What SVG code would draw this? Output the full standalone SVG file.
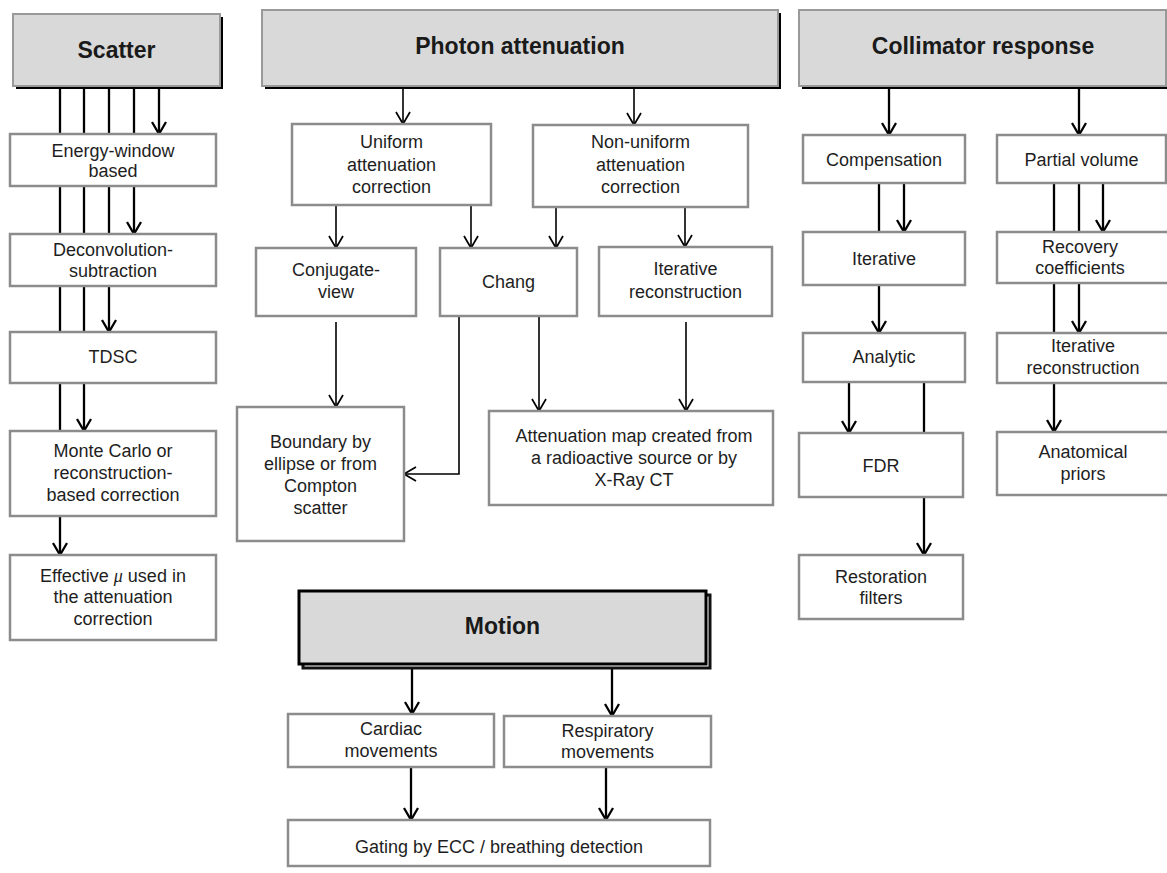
<svg xmlns="http://www.w3.org/2000/svg" width="1167" height="873" viewBox="0 0 1167 873">
<style>
.bg{fill:#ffffff}
.box{fill:#ffffff;stroke:#8c8c8c;stroke-width:2.5}
.hdr{fill:#d9d9d9;stroke:#999999;stroke-width:2}
.shadow{fill:#000000}
.t{font-family:"Liberation Sans",Arial,Helvetica,sans-serif;font-size:18px;fill:#1e1e1e;text-anchor:middle}
.h{font-family:"Liberation Sans",Arial,Helvetica,sans-serif;font-size:23px;font-weight:bold;fill:#1a1a1a;text-anchor:middle}
.c{fill:none;stroke:#000000;stroke-width:2.3}
.c2{fill:none;stroke:#000000;stroke-width:1.6}
.a{marker-end:url(#arr)}
.a2{marker-end:url(#arr2)}
.mu{font-family:"Liberation Serif","Times New Roman",serif;font-style:italic}
</style>
<defs>
<marker id="arr" markerUnits="userSpaceOnUse" markerWidth="18" markerHeight="18" refX="14" refY="8" orient="auto" viewBox="0 0 18 16">
<path d="M2,1 L14,8 L2,15" fill="none" stroke="#000" stroke-width="2.3"/>
</marker>
<marker id="arr2" markerUnits="userSpaceOnUse" markerWidth="18" markerHeight="18" refX="14" refY="8" orient="auto" viewBox="0 0 18 16">
<path d="M2,1 L14,8 L2,15" fill="none" stroke="#000" stroke-width="1.7"/>
</marker>
</defs>
<rect class="bg" x="0" y="0" width="1167" height="873"/>

<g id="connectors">
<!-- Scatter -->
<path class="c" d="M60,89V134M60,186V234M60,286V332M60,383V431"/>
<path class="c a" d="M60,516V555"/>
<path class="c" d="M84,89V134M84,186V234M84,286V332"/>
<path class="c a" d="M84,383V431"/>
<path class="c" d="M109,89V134M109,186V234"/>
<path class="c a" d="M109,286V332"/>
<path class="c" d="M134,89V134"/>
<path class="c a" d="M134,186V234"/>
<path class="c a" d="M159,89V134"/>
<!-- Photon attenuation -->
<path class="c2 a2" d="M403,88V124"/>
<path class="c2 a2" d="M634,88V125"/>
<path class="c2 a2" d="M336,205V248"/>
<path class="c2 a2" d="M471,205V248"/>
<path class="c2 a2" d="M556,207V248"/>
<path class="c2 a2" d="M685,207V247"/>
<path class="c2 a2" d="M336,322V407"/>
<path class="c2 a2" d="M459,316V474H404"/>
<path class="c2 a2" d="M539,316V411"/>
<path class="c2 a2" d="M686,322V411"/>
<!-- Collimator response -->
<path class="c a" d="M889,88V135"/>
<path class="c a" d="M1079,88V135"/>
<path class="c" d="M879,183V232"/>
<path class="c a" d="M904,183V232"/>
<path class="c a" d="M879,285V333"/>
<path class="c a" d="M849,382V433"/>
<path class="c" d="M924,382V433"/>
<path class="c a" d="M924,497V555"/>
<path class="c" d="M1054,183V232M1079,183V232"/>
<path class="c a" d="M1103,183V232"/>
<path class="c" d="M1054,283V333"/>
<path class="c a" d="M1079,283V333"/>
<path class="c a" d="M1054,383V432"/>
<!-- Motion -->
<path class="c a" d="M412,669V714"/>
<path class="c a" d="M612,669V716"/>
<path class="c a" d="M411,767V820"/>
<path class="c a" d="M606,767V820"/>
</g>

<g id="scatter">
<rect class="shadow" x="16" y="17" width="207" height="72"/>
<rect class="hdr" x="13" y="14" width="207" height="72"/>
<text class="h" x="116.5" y="58">Scatter</text>
</g>
<g id="energy-window">
<rect class="box" x="10" y="134" width="206" height="52"/>
<text class="t" x="113" y="157">Energy-window</text>
<text class="t" x="113" y="177">based</text>
</g>
<g id="deconvolution">
<rect class="box" x="10" y="234" width="206" height="52"/>
<text class="t" x="113" y="256">Deconvolution-</text>
<text class="t" x="113" y="277">subtraction</text>
</g>
<g id="tdsc">
<rect class="box" x="10" y="332" width="206" height="51"/>
<text class="t" x="113" y="363">TDSC</text>
</g>
<g id="monte-carlo">
<rect class="box" x="10" y="431" width="206" height="85"/>
<text class="t" x="113" y="457">Monte Carlo or</text>
<text class="t" x="113" y="479">reconstruction-</text>
<text class="t" x="113" y="501">based correction</text>
</g>
<g id="effective-mu">
<rect class="box" x="10" y="555" width="206" height="85"/>
<text class="t" x="113" y="582">Effective <tspan class="mu">μ</tspan> used in</text>
<text class="t" x="113" y="603">the attenuation</text>
<text class="t" x="113" y="625">correction</text>
</g>

<g id="photon-attenuation">
<rect class="shadow" x="265" y="13" width="516" height="76"/>
<rect class="hdr" x="262" y="10" width="516" height="76"/>
<text class="h" x="520" y="54">Photon attenuation</text>
</g>
<g id="uniform">
<rect class="box" x="292" y="124" width="199" height="81"/>
<text class="t" x="391.5" y="148">Uniform</text>
<text class="t" x="391.5" y="171">attenuation</text>
<text class="t" x="391.5" y="193">correction</text>
</g>
<g id="non-uniform">
<rect class="box" x="533" y="125" width="215" height="82"/>
<text class="t" x="640.5" y="148">Non-uniform</text>
<text class="t" x="640.5" y="171">attenuation</text>
<text class="t" x="640.5" y="193">correction</text>
</g>
<g id="conjugate-view">
<rect class="box" x="256" y="248" width="160" height="68"/>
<text class="t" x="336" y="276">Conjugate-</text>
<text class="t" x="336" y="298">view</text>
</g>
<g id="chang">
<rect class="box" x="440" y="248" width="137" height="68"/>
<text class="t" x="508.5" y="288">Chang</text>
</g>
<g id="iterative-reconstruction-pa">
<rect class="box" x="599" y="247" width="173" height="69"/>
<text class="t" x="685.5" y="275">Iterative</text>
<text class="t" x="685.5" y="298">reconstruction</text>
</g>
<g id="boundary">
<rect class="box" x="237" y="407" width="167" height="134"/>
<text class="t" x="320.5" y="448">Boundary by</text>
<text class="t" x="320.5" y="470">ellipse or from</text>
<text class="t" x="320.5" y="492">Compton</text>
<text class="t" x="320.5" y="514">scatter</text>
</g>
<g id="attenuation-map">
<rect class="box" x="489" y="411" width="284" height="94"/>
<text class="t" x="634" y="442">Attenuation map created from</text>
<text class="t" x="634" y="464">a radioactive source or by</text>
<text class="t" x="634" y="486">X-Ray CT</text>
</g>

<g id="collimator-response">
<rect class="shadow" x="802" y="13" width="370" height="76"/>
<rect class="hdr" x="799" y="10" width="367" height="76"/>
<text class="h" x="983" y="54">Collimator response</text>
</g>
<g id="compensation">
<rect class="box" x="803" y="135" width="162" height="48"/>
<text class="t" x="884" y="166">Compensation</text>
</g>
<g id="partial-volume">
<rect class="box" x="997" y="135" width="169" height="48"/>
<text class="t" x="1081.5" y="166">Partial volume</text>
</g>
<g id="iterative">
<rect class="box" x="803" y="232" width="162" height="53"/>
<text class="t" x="884" y="265">Iterative</text>
</g>
<g id="recovery">
<rect class="box" x="997" y="232" width="176" height="51"/>
<text class="t" x="1080" y="253">Recovery</text>
<text class="t" x="1080" y="274">coefficients</text>
</g>
<g id="analytic">
<rect class="box" x="803" y="333" width="162" height="49"/>
<text class="t" x="884" y="363">Analytic</text>
</g>
<g id="iterative-reconstruction-cr">
<rect class="box" x="997" y="333" width="176" height="50"/>
<text class="t" x="1083" y="352">Iterative</text>
<text class="t" x="1083" y="374">reconstruction</text>
</g>
<g id="fdr">
<rect class="box" x="799" y="433" width="164" height="64"/>
<text class="t" x="881" y="472">FDR</text>
</g>
<g id="anatomical-priors">
<rect class="box" x="997" y="432" width="176" height="63"/>
<text class="t" x="1083" y="458">Anatomical</text>
<text class="t" x="1083" y="480">priors</text>
</g>
<g id="restoration-filters">
<rect class="box" x="799" y="555" width="164" height="64"/>
<text class="t" x="881" y="583">Restoration</text>
<text class="t" x="881" y="604">filters</text>
</g>

<g id="motion">
<rect x="303" y="595" width="407" height="73" fill="none" stroke="#111" stroke-width="3"/>
<rect x="299" y="591" width="407" height="73" fill="#d9d9d9" stroke="#000" stroke-width="3"/>
<text class="h" x="502.5" y="634">Motion</text>
</g>
<g id="cardiac">
<rect class="box" x="288" y="714" width="206" height="53"/>
<text class="t" x="391" y="735">Cardiac</text>
<text class="t" x="391" y="757">movements</text>
</g>
<g id="respiratory">
<rect class="box" x="504" y="716" width="207" height="51"/>
<text class="t" x="607.5" y="737">Respiratory</text>
<text class="t" x="607.5" y="758">movements</text>
</g>
<g id="gating">
<rect class="box" x="288" y="820" width="422" height="46"/>
<text class="t" x="499" y="853">Gating by ECC / breathing detection</text>
</g>
</svg>
